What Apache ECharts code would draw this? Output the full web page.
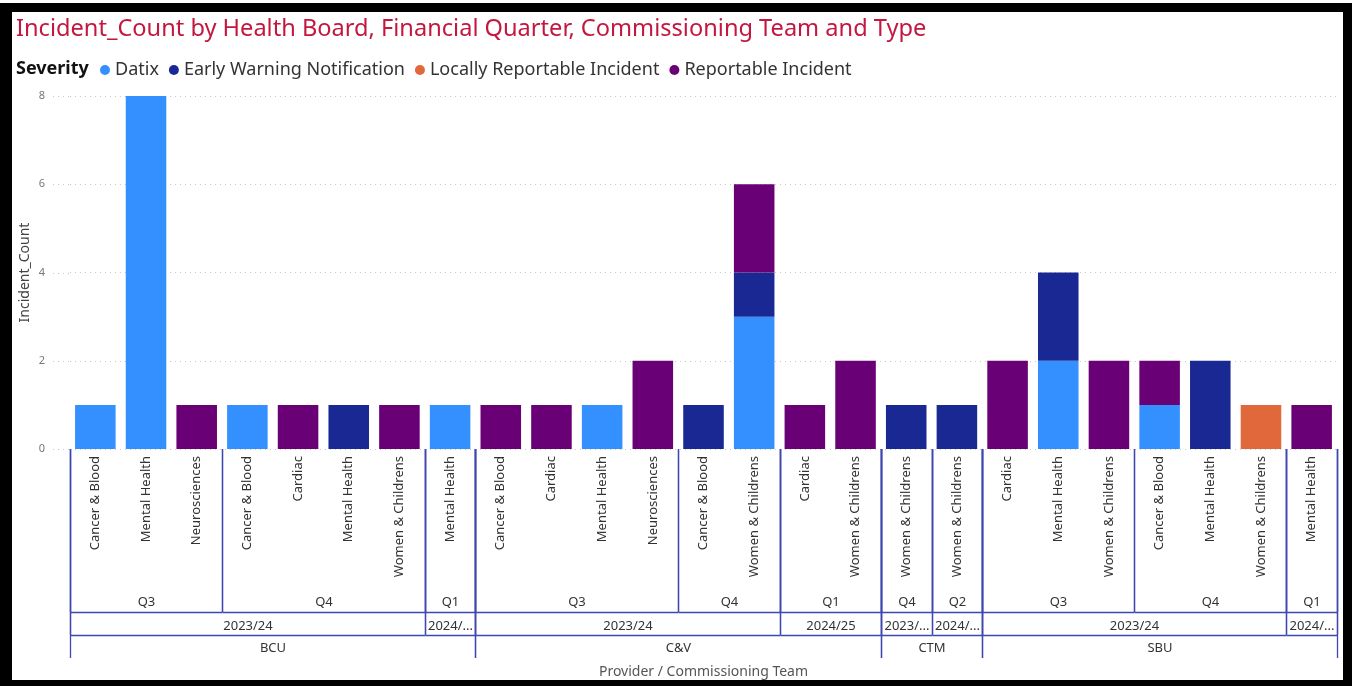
<!DOCTYPE html>
<html>
<head>
<meta charset="utf-8">
<script src="https://cdn.jsdelivr.net/npm/echarts@6/dist/echarts.min.js"></script>
<style>
html,body{margin:0;padding:0;background:#fff;}
#chart{width:1352px;height:686px;}
</style>
</head>
<body>
<div id="chart"></div>
<script>
// ---- data ----
const categories = ['Cancer & Blood','Mental Health','Neurosciences','Cancer & Blood','Cardiac','Mental Health','Women & Childrens','Mental Health',
  'Cancer & Blood','Cardiac','Mental Health','Neurosciences','Cancer & Blood','Women & Childrens','Cardiac','Women & Childrens',
  'Women & Childrens','Women & Childrens',
  'Cardiac','Mental Health','Women & Childrens','Cancer & Blood','Mental Health','Women & Childrens','Mental Health'];
const quarters = ['Q3','Q3','Q3','Q4','Q4','Q4','Q4','Q1',
  'Q3','Q3','Q3','Q3','Q4','Q4','Q1','Q1',
  'Q4','Q2',
  'Q3','Q3','Q3','Q4','Q4','Q4','Q1'];
const years = ['2023/24','2023/24','2023/24','2023/24','2023/24','2023/24','2023/24','2024/25',
  '2023/24','2023/24','2023/24','2023/24','2023/24','2023/24','2024/25','2024/25',
  '2023/24','2024/25',
  '2023/24','2023/24','2023/24','2023/24','2023/24','2023/24','2024/25'];
const providers = ['BCU','BCU','BCU','BCU','BCU','BCU','BCU','BCU',
  'C&V','C&V','C&V','C&V','C&V','C&V','C&V','C&V',
  'CTM','CTM',
  'SBU','SBU','SBU','SBU','SBU','SBU','SBU'];
const datix      = [1,8,0,1,0,0,0,1, 0,0,1,0,0,3,0,0, 0,0, 0,2,0,1,0,0,0];
const ewn        = [0,0,0,0,0,1,0,0, 0,0,0,0,1,1,0,0, 1,1, 0,2,0,0,2,0,0];
const locally    = [0,0,0,0,0,0,0,0, 0,0,0,0,0,0,0,0, 0,0, 0,0,0,0,0,1,0];
const reportable = [0,0,1,0,1,0,1,0, 1,1,0,2,0,2,1,2, 0,0, 2,0,2,1,0,0,1];
const severityNames = ['Datix','Early Warning Notification','Locally Reportable Incident','Reportable Incident'];
const severityColors = ['#3590FF','#1A2894','#E0683A','#6A0075'];
const yTicks = [0,2,4,6,8];
const titleText = 'Incident_Count by Health Board, Financial Quarter, Commissioning Team and Type';
const legendTitle = 'Severity';
const yName = 'Incident_Count';
const xName = 'Provider / Commissioning Team';

// ---- hierarchy groups (runs of consecutive equal keys) ----
function runs(keyFn, labelFn, level){
  const out = [];
  for (let i = 0; i < categories.length; i++){
    const k = keyFn(i);
    if (out.length && out[out.length-1].key === k) { out[out.length-1].end = i; }
    else out.push({key:k, start:i, end:i, label:labelFn(i), level:level});
  }
  return out;
}
const groups = [].concat(
  runs(i => providers[i]+'|'+years[i]+'|'+quarters[i], i => quarters[i], 0),
  runs(i => providers[i]+'|'+years[i], i => years[i], 1),
  runs(i => providers[i], i => providers[i], 2)
);

const FONT = "'Segoe UI','Noto Sans',sans-serif";
const LINE = '#3C48B0';
const depth = [163, 186, 209];
const labelOff = [153, 177, 199];

const chart = echarts.init(document.getElementById('chart'));
const series = severityNames.map((n, si) => ({
  name: n, type: 'bar', stack: 'total',
  barWidth: '80%',
  itemStyle: {color: severityColors[si]},
  data: [datix, ewn, locally, reportable][si].map(v => v === 0 ? '-' : v)
}));
series.push({
  type: 'custom', silent: true, z: 5,
  data: groups.map(g => [g.start, g.level, g.end]),
  encode: {x: 0, y: 1},
  renderItem: function(params, api){
    const g = groups[params.dataIndex];
    const bw = api.size([1, 0])[0];
    const x0 = Math.round(api.coord([g.start, 0])[0] - bw/2) + 0.5;
    const x1 = Math.round(api.coord([g.end, 0])[0] + bw/2) + 0.5;
    const base = api.coord([g.start, 0])[1];
    const d = depth[g.level];
    const ch = [
      {type:'line', shape:{x1:x0, y1:base, x2:x0, y2:base+d}, style:{stroke:LINE, lineWidth:1.3}},
      {type:'line', shape:{x1:x1, y1:base, x2:x1, y2:base+d}, style:{stroke:LINE, lineWidth:1.3}},
      {type:'text', style:{text:g.label, x:(x0+x1)/2, y:base+labelOff[g.level], align:'center', verticalAlign:'middle',
        fill:'#333', fontSize:13, fontFamily:FONT, width:Math.max(10, x1-x0-3), overflow:'truncate', ellipsis:'...'}}
    ];
    if (g.level < 2) ch.push({type:'line', shape:{x1:x0, y1:Math.round(base+d)+0.5, x2:x1, y2:Math.round(base+d)+0.5}, style:{stroke:LINE, lineWidth:1.3}});
    return {type:'group', children: ch};
  }
});
// dotted gridline stubs left of the first category
series.push({
  type: 'custom', silent: true, z: 1,
  data: yTicks.map(v => [0, v]),
  encode: {x: 0, y: 1},
  renderItem: function(params, api){
    const bw = api.size([1, 0])[0];
    const p = api.coord([0, api.value(1)]);
    const xl = p[0] - bw/2;
    const y = Math.round(p[1]) + 0.5;
    return {type:'line', shape:{x1:xl-17, y1:y, x2:xl, y2:y}, style:{stroke:'#C8C8C8', lineWidth:1, lineDash:[1,4]}};
  }
});

chart.setOption({
  animation: false,
  backgroundColor: '#fff',
  title: {text: titleText, left: 16, top: 17, padding: 0,
    textStyle: {color: '#C4173F', fontSize: 23.6, fontWeight: 'normal', fontFamily: FONT}},
  legend: {data: severityNames, left: 100, top: 61, icon: 'circle', itemWidth: 10, itemHeight: 10, itemGap: 10,
    padding: 0, textStyle: {color: '#333', fontSize: 18, fontFamily: FONT}},
  graphic: [
    {type:'text', left: 16, top: 60, style:{text: legendTitle, fill:'#111', fontSize:18, fontWeight:'bold', fontFamily:FONT}},
    {type:'rect', shape:{x:0, y:3, width:1352, height:9}, style:{fill:'#000'}, z: 100},
    {type:'rect', shape:{x:0, y:3, width:12, height:683}, style:{fill:'#000'}, z: 100},
    {type:'rect', shape:{x:1343, y:3, width:9, height:683}, style:{fill:'#000'}, z: 100},
    {type:'rect', shape:{x:0, y:680, width:1352, height:6}, style:{fill:'#000'}, z: 100}
  ],
  grid: {left: 70, right: 15, top: 96, bottom: 237, outerBoundsMode: 'none', containLabel: false},
  xAxis: {
    type: 'category', data: categories,
    axisLine: {show: false}, axisTick: {show: false},
    axisLabel: {rotate: 90, margin: 7, color: '#333', fontSize: 13, fontFamily: FONT, interval: 0},
    name: xName, nameLocation: 'middle', nameGap: 216, nameMoveOverlap: false,
    nameTextStyle: {color: '#555', fontSize: 14, fontFamily: FONT}
  },
  yAxis: {
    type: 'value', min: 0, max: 8, interval: 2,
    axisLabel: {margin: 25, color: '#777', fontSize: 11, fontFamily: FONT},
    splitLine: {lineStyle: {color: '#C8C8C8', type: [1, 4]}},
    name: yName, nameLocation: 'middle', nameGap: 38, nameMoveOverlap: false,
    nameTextStyle: {color: '#444', fontSize: 14, fontFamily: FONT}
  },
  series: series
});
</script>
</body>
</html>
